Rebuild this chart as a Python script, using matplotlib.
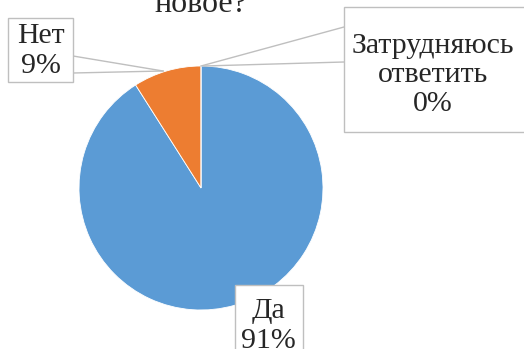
import matplotlib.pyplot as plt
from matplotlib.patches import Rectangle

# survey answers
categories = ["Да", "Нет", "Затрудняюсь ответить"]
shares = [91, 9, 0]
colors = ["#5B9BD5", "#ED7D31", "#A5A5A5"]
title = "новое?"

W, H = 524, 349
fig = plt.figure(figsize=(W / 100, H / 100), dpi=100)
ax = fig.add_axes([0, 0, 1, 1])

# pie in pixel-like coordinates (y going up)
cx, cy, r = 201, H - 188, 122
ax.pie(shares, colors=colors, startangle=90, counterclock=False,
       center=(cx, cy), radius=r,
       wedgeprops=dict(edgecolor="white", linewidth=0.6))

ax.set_xlim(0, W)
ax.set_ylim(0, H)
ax.set_aspect("equal")
ax.axis("off")

font = dict(family="Liberation Serif", fontsize=21.5, color="#262626")
line_col = "#BFBFBF"

# label boxes: (x0, y0_top, x1, y1_bottom) in image pixels, text centre
boxes = {
    "Да": ((235, 285, 303, 360), (268, 326)),
    "Нет": ((8, 18, 73, 82), (40.5, 51)),
    "Затрудняюсь ответить": ((344, 7, 540, 132), (433, 75)),
}
# leader lines: box edge points -> pie point
leaders = {
    "Нет": [((73, 56), (163, 71)), ((73, 73), (163, 71))],
    "Затрудняюсь ответить": [((344, 27), (201, 66)), ((344, 62), (204, 66))],
}

for cat, val in zip(categories, shares):
    (x0, y0, x1, y1), (tx, ty) = boxes[cat]
    ax.add_patch(Rectangle((x0, H - y1), x1 - x0, y1 - y0, facecolor="white",
                           edgecolor=line_col, linewidth=1.0, zorder=3))
    label = cat.replace(" ", "\n") + f"\n{val}%"
    ax.text(tx, H - ty, label, ha="center", va="center", linespacing=1.17,
            zorder=4, **font)
    for (ax0, ay0), (ax1, ay1) in leaders.get(cat, []):
        ax.plot([ax0, ax1], [H - ay0, H - ay1], color=line_col, lw=1.0, zorder=2)

ax.text(201, H - 12, title, ha="center", va="baseline",
        family="Liberation Serif", fontsize=23, color="#262626")

fig.savefig("out.png", dpi=100)
